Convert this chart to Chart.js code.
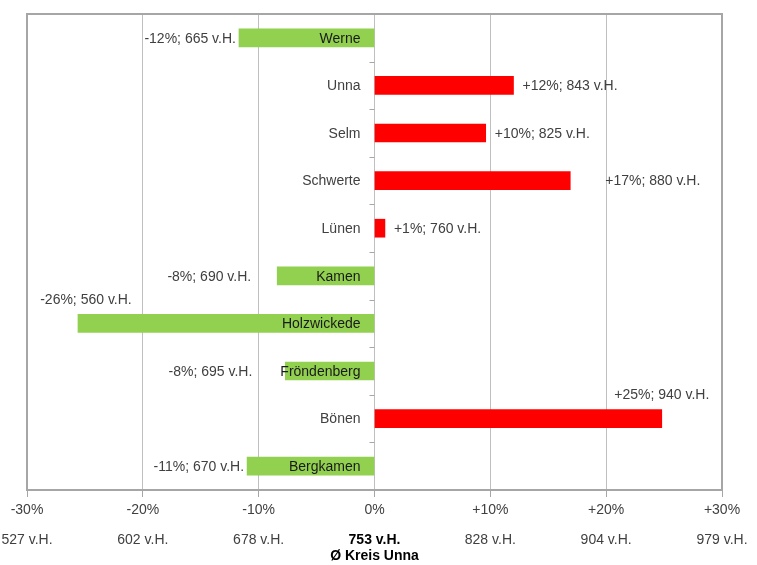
<!DOCTYPE html>
<html>
<head>
<meta charset="utf-8">
<script src="https://cdn.jsdelivr.net/npm/chart.js@4.4.1/dist/chart.umd.min.js"></script>
<style>
  html, body { margin: 0; padding: 0; background: #ffffff; }
  #wrap { width: 757px; height: 565px; position: relative; }
</style>
</head>
<body>
<div id="wrap"><canvas id="c" width="757" height="565"></canvas></div>
<script>
// ---- data ----
const categories = ['Werne', 'Unna', 'Selm', 'Schwerte', 'Lünen', 'Kamen', 'Holzwickede', 'Fröndenberg', 'Bönen', 'Bergkamen'];
const changePct  = [-11.7, 12.0, 9.6, 16.9, 0.9, -8.4, -25.6, -7.7, 24.8, -11.0];
const pctLabels  = ['-12%', '+12%', '+10%', '+17%', '+1%', '-8%', '-26%', '-8%', '+25%', '-11%'];
const vhValues   = [665, 843, 825, 880, 760, 690, 560, 695, 940, 670];
const xTickValues = [-30, -20, -10, 0, 10, 20, 30];
const xTickPct    = ['-30%', '-20%', '-10%', '0%', '+10%', '+20%', '+30%'];
const xTickVH     = [527, 602, 678, 753, 828, 904, 979];
const averageLabel = 'Ø Kreis Unna';

// ---- label placement (style, not data) ----
const labelPlacement = {
  'Holzwickede': { above: true, dx: 8 },
  'Bönen':       { above: true, dx: 0 },
  'Kamen':       { dx: -23 },
  'Fröndenberg': { dx: -30 },
  'Schwerte':    { dx: 26 }
};

const FONT = '"Liberation Sans", Arial, sans-serif';
const TEXT = '#404040';

const labelPlugin = {
  id: 'labels',
  beforeDatasetsDraw(chart) {
    const { ctx, chartArea, scales } = chart;
    // frame
    ctx.save();
    ctx.strokeStyle = '#a6a6a6';
    ctx.lineWidth = 2;
    ctx.beginPath();
    ctx.moveTo(chartArea.left, chartArea.bottom);
    ctx.lineTo(chartArea.left, chartArea.top);
    ctx.lineTo(chartArea.right, chartArea.top);
    ctx.lineTo(chartArea.right, chartArea.bottom);
    ctx.stroke();
    ctx.restore();
  },
  afterDatasetsDraw(chart) {
    const { ctx, scales } = chart;
    const xs = scales.x, ys = scales.y;
    const meta = chart.getDatasetMeta(0);
    const zeroX = xs.getPixelForValue(0);
    ctx.save();
    // zero axis tick marks at category boundaries
    ctx.strokeStyle = '#a6a6a6';
    ctx.lineWidth = 1;
    for (let i = 0; i <= categories.length; i++) {
      let yb;
      if (i === 0) yb = chart.chartArea.top;
      else if (i === categories.length) yb = chart.chartArea.bottom;
      else yb = (ys.getPixelForValue(i - 1) + ys.getPixelForValue(i)) / 2;
      ctx.beginPath();
      ctx.moveTo(zeroX - 5, Math.round(yb) + 0.5);
      ctx.lineTo(zeroX, Math.round(yb) + 0.5);
      ctx.stroke();
    }
    ctx.font = '14px ' + FONT;
    ctx.textBaseline = 'middle';
    meta.data.forEach((bar, i) => {
      const name = categories[i];
      // category label
      ctx.fillStyle = changePct[i] < 0 ? '#1a1a1a' : TEXT;
      ctx.textAlign = 'right';
      ctx.fillText(name, zeroX - 14, bar.y + 1);
      // value label
      const txt = pctLabels[i] + '; ' + vhValues[i] + ' v.H.';
      const p = labelPlacement[name] || {};
      ctx.fillStyle = TEXT;
      if (p.above) {
        ctx.textAlign = 'center';
        ctx.fillText(txt, bar.x + (p.dx || 0), bar.y - 23);
      } else if (changePct[i] >= 0) {
        ctx.textAlign = 'left';
        ctx.fillText(txt, bar.x + 9 + (p.dx || 0), bar.y + 1);
      } else {
        ctx.textAlign = 'right';
        ctx.fillText(txt, bar.x - 3 + (p.dx || 0), bar.y + 1);
      }
    });
    // second row of x tick labels
    xTickValues.forEach((v, i) => {
      const px = xs.getPixelForValue(v);
      ctx.textAlign = 'center';
      if (v === 0) {
        ctx.fillStyle = '#000000';
        ctx.font = 'bold 14px ' + FONT;
        ctx.fillText(xTickVH[i] + ' v.H.', px, 540);
        ctx.fillText(averageLabel, px, 556);
      } else {
        ctx.fillStyle = TEXT;
        ctx.font = '14px ' + FONT;
        ctx.fillText(xTickVH[i] + ' v.H.', px, 540);
      }
    });
    ctx.restore();
  }
};

new Chart(document.getElementById('c'), {
  type: 'bar',
  data: {
    labels: categories,
    datasets: [{
      data: changePct,
      backgroundColor: changePct.map(v => v >= 0 ? '#ff0000' : '#92d050'),
      borderWidth: 0,
      barThickness: 18
    }]
  },
  options: {
    indexAxis: 'y',
    responsive: false,
    animation: false,
    devicePixelRatio: 1,
    layout: { padding: { left: 0, right: 35, top: 14, bottom: 0 } },
    plugins: { legend: { display: false }, tooltip: { enabled: false } },
    scales: {
      x: {
        min: -30, max: 30,
        afterFit(scale) { scale.height = 75; },
        afterBuildTicks(scale) { scale.ticks = xTickValues.map(v => ({ value: v })); },
        ticks: {
          callback: (v) => xTickPct[xTickValues.indexOf(v)],
          font: { family: FONT, size: 14 },
          color: TEXT,
          padding: 5,
          maxRotation: 0,
          autoSkip: false
        },
        grid: { color: '#bfbfbf', lineWidth: 1, tickLength: 7, tickColor: '#a6a6a6' },
        border: { color: '#a6a6a6', width: 2 }
      },
      y: {
        afterFit(scale) { scale.width = 27; },
        ticks: { display: false },
        grid: { display: false },
        border: { display: false }
      }
    }
  },
  plugins: [labelPlugin]
});
</script>
</body>
</html>
